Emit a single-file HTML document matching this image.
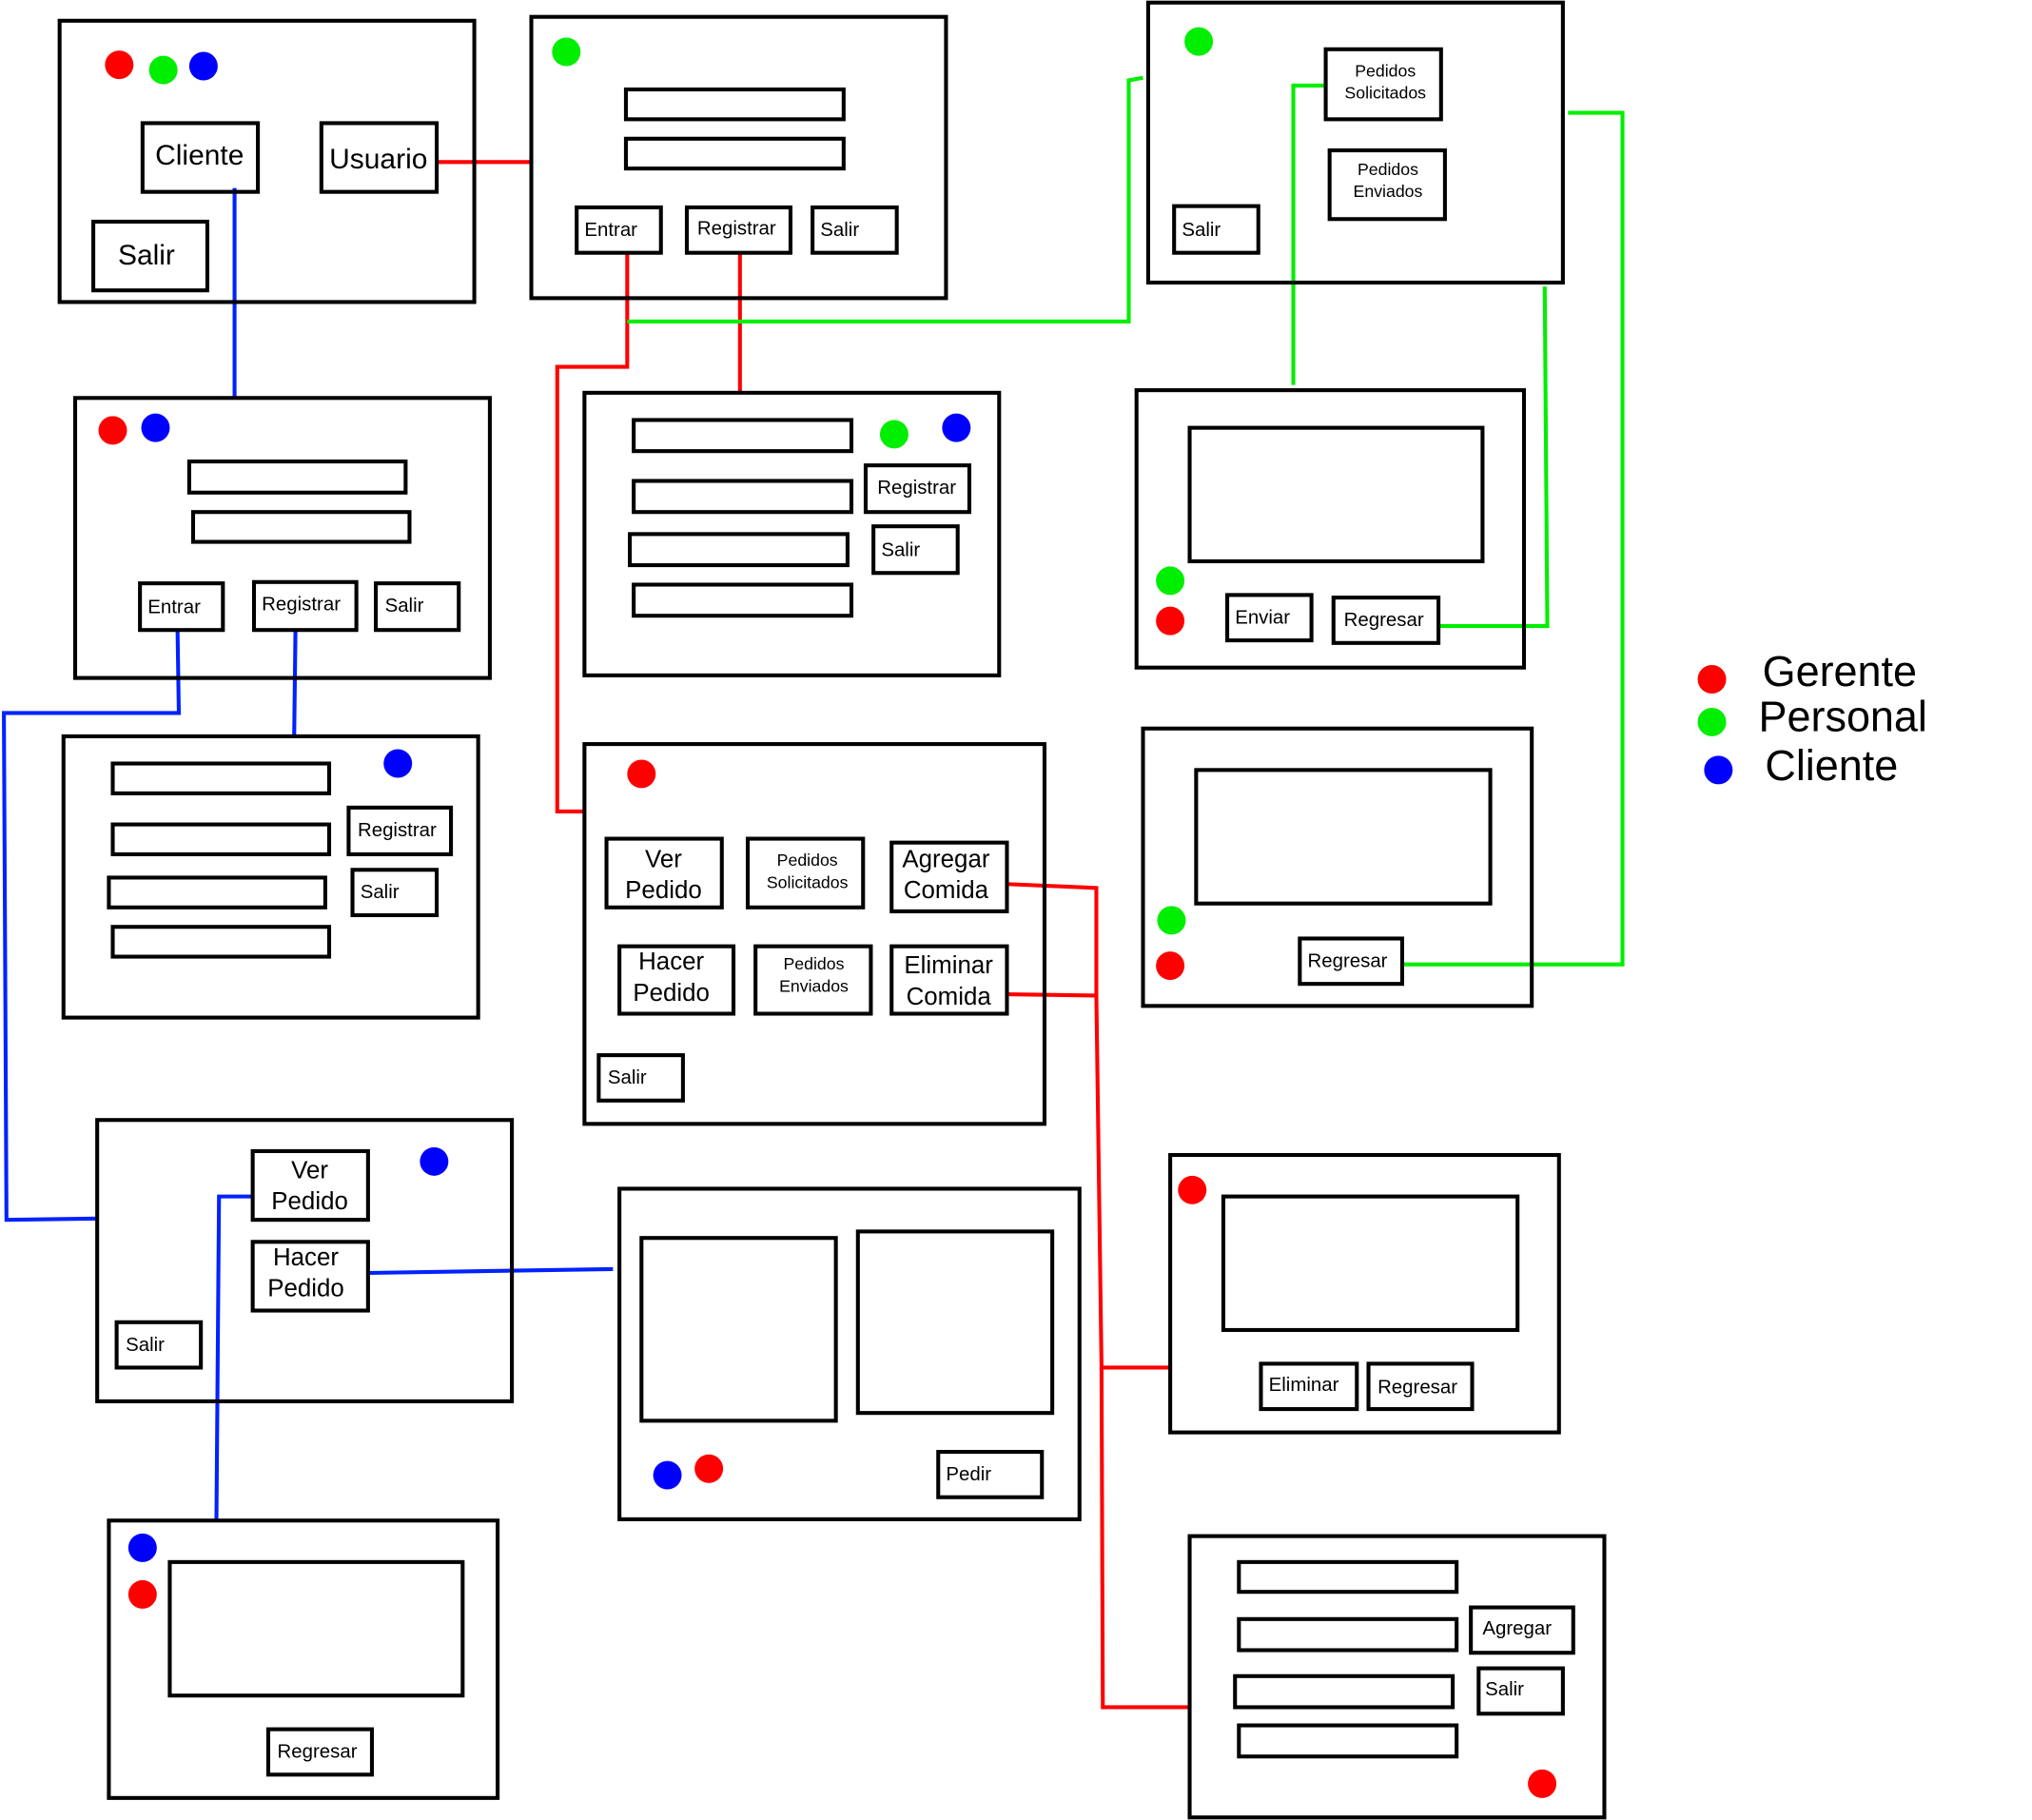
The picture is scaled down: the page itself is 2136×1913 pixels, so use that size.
<!DOCTYPE html>
<html><head><meta charset="utf-8"><style>html,body{margin:0;padding:0;background:#fff}svg{display:block}</style></head>
<body>
<svg width="2136" height="1913" viewBox="0 0 1568 1404" preserveAspectRatio="none" xmlns="http://www.w3.org/2000/svg" font-family="Liberation Sans, sans-serif">
<g fill="none" stroke-width="3">
<!-- connectors -->
<g stroke="#ff0000">
<polyline points="337,125 410,125"/>
<polyline points="484,195 484,283 430,283 430,626 451,626"/>
<polyline points="571,195 571,303"/>
<polyline points="777,682 846,685 846,768 777,767"/>
<polyline points="846,768 850,1055 903,1055"/>
<polyline points="850,1055 851,1317 918,1317"/>
</g>
<g stroke="#00ee00">
<polyline points="484,248 871,248 871,62 882,60"/>
<polyline points="1023,66 998,66 998,297"/>
<polyline points="1192,221 1194,483 1110,483"/>
<polyline points="1210,87 1252,87 1252,744 1082,744"/>
</g>
<g stroke="#0022ff">
<polyline points="181,145 181,307"/>
<polyline points="137,486 138,550 3,550 5,941 75,940"/>
<polyline points="228,486 227,568"/>
<polyline points="284,982 473,979"/>
<polyline points="195,923 169,923 167,1173"/>
</g>
<!-- boxes -->
<g stroke="#000">
<rect x="46" y="16" width="320" height="217"/>
<rect x="110" y="95" width="89" height="53"/><rect x="248" y="95" width="89" height="53"/><rect x="72" y="171" width="88" height="53"/>
<rect x="410" y="13" width="320" height="217"/>
<rect x="483" y="69" width="168" height="23"/><rect x="483" y="107" width="168" height="23"/>
<rect x="445" y="160" width="65" height="35"/><rect x="530" y="160" width="80" height="35"/><rect x="627" y="160" width="65" height="35"/>
<rect x="886" y="2" width="320" height="216"/>
<rect x="1023" y="38" width="89" height="54"/><rect x="1026" y="116" width="89" height="53"/><rect x="906" y="159" width="65" height="36"/>
<rect x="58" y="307" width="320" height="216"/>
<rect x="146" y="356" width="167" height="24"/><rect x="149" y="395" width="167" height="23"/>
<rect x="108" y="450" width="64" height="36"/><rect x="196" y="449" width="79" height="37"/><rect x="290" y="450" width="64" height="36"/>
<rect x="451" y="303" width="320" height="218"/>
<rect x="489" y="324" width="168" height="24"/><rect x="489" y="371" width="168" height="24"/><rect x="486" y="412" width="168" height="24"/><rect x="489" y="451" width="168" height="24"/>
<rect x="668" y="359" width="80" height="36"/><rect x="674" y="406" width="65" height="36"/>
<rect x="877" y="301" width="299" height="214"/>
<rect x="918" y="330" width="226" height="103"/><rect x="947" y="459" width="65" height="35"/><rect x="1029" y="461" width="81" height="35"/>
<rect x="49" y="568" width="320" height="217"/>
<rect x="87" y="589" width="167" height="23"/><rect x="87" y="636" width="167" height="23"/><rect x="84" y="677" width="167" height="23"/><rect x="87" y="715" width="167" height="23"/>
<rect x="269" y="623" width="79" height="36"/><rect x="272" y="671" width="65" height="35"/>
<rect x="451" y="574" width="355" height="293"/>
<rect x="468" y="647" width="89" height="53"/><rect x="577" y="647" width="89" height="53"/><rect x="688" y="650" width="89" height="53"/>
<rect x="478" y="730" width="88" height="52"/><rect x="583" y="730" width="89" height="52"/><rect x="688" y="730" width="89" height="52"/>
<rect x="462" y="814" width="65" height="35"/>
<rect x="882" y="562" width="300" height="214"/>
<rect x="923" y="594" width="227" height="103"/><rect x="1003" y="724" width="79" height="35"/>
<rect x="75" y="864" width="320" height="217"/>
<rect x="195" y="888" width="89" height="53"/><rect x="195" y="958" width="89" height="53"/><rect x="90" y="1020" width="65" height="35"/>
<rect x="478" y="917" width="355" height="255"/>
<rect x="495" y="955" width="150" height="141"/><rect x="662" y="950" width="150" height="140"/><rect x="724" y="1120" width="80" height="35"/>
<rect x="903" y="891" width="300" height="214"/>
<rect x="944" y="923" width="227" height="103"/><rect x="973" y="1052" width="74" height="35"/><rect x="1056" y="1052" width="80" height="35"/>
<rect x="84" y="1173" width="300" height="214"/>
<rect x="131" y="1205" width="226" height="103"/><rect x="207" y="1334" width="80" height="35"/>
<rect x="918" y="1185" width="320" height="217"/>
<rect x="956" y="1205" width="168" height="23"/><rect x="956" y="1249" width="168" height="24"/><rect x="953" y="1293" width="168" height="24"/><rect x="956" y="1331" width="168" height="24"/>
<rect x="1135" y="1240" width="79" height="35"/><rect x="1141" y="1287" width="65" height="35"/>
</g>
</g>
<!-- dots -->
<g>
<circle cx="92" cy="50" r="11" fill="#f00"/><circle cx="126" cy="54" r="11" fill="#0e0"/><circle cx="157" cy="51" r="11" fill="#00f"/>
<circle cx="437" cy="40" r="11" fill="#0e0"/>
<circle cx="925" cy="32" r="11" fill="#0e0"/>
<circle cx="87" cy="332" r="11" fill="#f00"/><circle cx="120" cy="330" r="11" fill="#00f"/>
<circle cx="690" cy="335" r="11" fill="#0e0"/><circle cx="738" cy="330" r="11" fill="#00f"/>
<circle cx="903" cy="448" r="11" fill="#0e0"/><circle cx="903" cy="479" r="11" fill="#f00"/>
<circle cx="307" cy="589" r="11" fill="#00f"/>
<circle cx="495" cy="597" r="11" fill="#f00"/>
<circle cx="904" cy="710" r="11" fill="#0e0"/><circle cx="903" cy="745" r="11" fill="#f00"/>
<circle cx="335" cy="896" r="11" fill="#00f"/>
<circle cx="515" cy="1138" r="11" fill="#00f"/><circle cx="547" cy="1133" r="11" fill="#f00"/>
<circle cx="920" cy="918" r="11" fill="#f00"/>
<circle cx="110" cy="1194" r="11" fill="#00f"/><circle cx="110" cy="1230" r="11" fill="#f00"/>
<circle cx="1190" cy="1376" r="11" fill="#f00"/>
<circle cx="1321" cy="524" r="11" fill="#f00"/><circle cx="1321" cy="557" r="11" fill="#0e0"/><circle cx="1326" cy="594" r="11" fill="#00f"/>
</g>
<!-- text -->
<g fill="#000">
<g font-size="22" text-anchor="middle">
<text x="154" y="127">Cliente</text><text x="292" y="130">Usuario</text><text x="113" y="204">Salir</text>
</g>
<g font-size="15">
<text x="451" y="182">Entrar</text><text x="538" y="181">Registrar</text><text x="633" y="182">Salir</text>
<text x="912" y="182">Salir</text>
<text x="114" y="473">Entrar</text><text x="202" y="471">Registrar</text><text x="297" y="472">Salir</text>
<text x="677" y="381">Registrar</text><text x="680" y="429">Salir</text>
<text x="953" y="481">Enviar</text><text x="1037" y="483">Regresar</text>
<text x="276" y="645">Registrar</text><text x="278" y="693">Salir</text>
<text x="469" y="836">Salir</text>
<text x="1009" y="746">Regresar</text>
<text x="97" y="1042">Salir</text>
<text x="730" y="1142">Pedir</text>
<text x="979" y="1073">Eliminar</text><text x="1063" y="1075">Regresar</text>
<text x="214" y="1356">Regresar</text>
<text x="1144" y="1261">Agregar</text><text x="1146" y="1308">Salir</text>
</g>
<g font-size="13" text-anchor="middle">
<text x="1069" y="59">Pedidos</text><text x="1069" y="76">Solicitados</text>
<text x="1071" y="135">Pedidos</text><text x="1071" y="152">Enviados</text>
<text x="623" y="668">Pedidos</text><text x="623" y="685">Solicitados</text>
<text x="628" y="748">Pedidos</text><text x="628" y="765">Enviados</text>
</g>
<g font-size="19" text-anchor="middle">
<text x="512" y="669">Ver</text><text x="512" y="693">Pedido</text>
<text x="730" y="669">Agregar</text><text x="730" y="693">Comida</text>
<text x="518" y="748">Hacer</text><text x="518" y="772">Pedido</text>
<text x="732" y="751">Eliminar</text><text x="732" y="775">Comida</text>
<text x="239" y="909">Ver</text><text x="239" y="933">Pedido</text>
<text x="236" y="976">Hacer</text><text x="236" y="1000">Pedido</text>
</g>
<g font-size="33">
<text x="1360" y="529">Gerente</text><text x="1357" y="564">Personal</text><text x="1362" y="602">Cliente</text>
</g>
</g>
</svg>
</body></html>
